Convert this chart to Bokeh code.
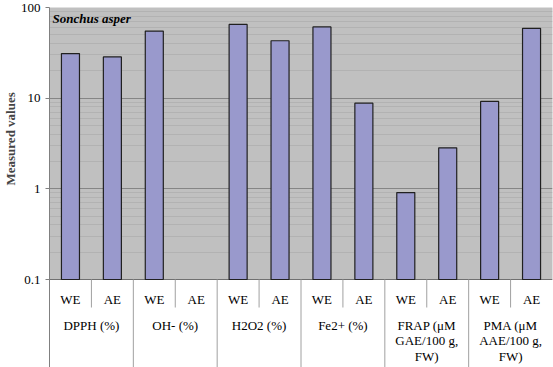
import math
from bokeh.plotting import figure
from bokeh.models import (FactorRange, Range1d, LinearScale, FixedTicker, Title,
                          BoxAnnotation, ColumnDataSource)
from bokeh.core.properties import value
from bokeh.embed import file_html
from bokeh.resources import INLINE

# ---------------- data ----------------
groups = ["DPPH (%)", "OH- (%)", "H2O2 (%)", "Fe2+ (%)",
          "FRAP (μM\nGAE/100 g,\nFW)", "PMA (μM\nAAE/100 g,\nFW)"]
subs = ["WE", "AE"]
we_values = [31, 55, 65, 61, 0.91, 9.2]
ae_values = [28.5, None, 43, 8.8, 2.83, 59]
y_ticks = [0.1, 1, 10, 100]
y_tick_labels = ["0.1", "1", "10", "100"]
species = "Sonchus asper"
y_title = "Measured values"

# ---------------- layout constants ----------------
FRAME_H = 360
TABLE_PX = 88              # height of category table under the plot area
SERIF = "Liberation Serif"

factors = [(g, s) for g in groups for s in subs]
px_per_dec = (FRAME_H - TABLE_PX) / math.log10(y_ticks[-1] / y_ticks[0])
y_start = y_ticks[0] / 10 ** (TABLE_PX / px_per_dec)

p = figure(
    x_range=FactorRange(factors=factors, factor_padding=0, group_padding=0,
                        subgroup_padding=0, range_padding=0),
    y_range=Range1d(y_start, y_ticks[-1]),
    y_axis_type="log",
    width=553, frame_height=FRAME_H,
    min_border_top=7, min_border_bottom=0, min_border_right=1, min_border_left=0,
    output_backend="svg", toolbar_location=None,
)
p.extra_y_ranges = {"px": Range1d(0, FRAME_H)}
p.extra_y_scales = {"px": LinearScale()}
p.outline_line_color = None
p.background_fill_color = "white"
p.border_fill_color = "white"
p.xgrid.visible = False
p.ygrid.visible = False
p.xaxis.visible = False

# y axis
yax = p.yaxis[0]
yax.ticker = FixedTicker(ticks=y_ticks, minor_ticks=[])
yax.major_label_overrides = {t: l for t, l in zip(y_ticks, y_tick_labels)}
yax.major_label_text_font = SERIF
yax.major_label_text_font_size = "13px"
yax.major_label_text_color = "black"
yax.major_label_standoff = 5
yax.axis_line_color = "#808080"
yax.major_tick_line_color = "#808080"
yax.major_tick_out = 4
yax.major_tick_in = 0
yax.minor_tick_line_color = None

# y title (placed along left side, centred on plot area)
title_len = 94
offset = TABLE_PX + (FRAME_H - TABLE_PX) / 2 - title_len / 2 + 5
p.add_layout(Title(text=y_title, align="left", offset=offset, text_font=SERIF,
                   text_font_size="13px", text_font_style="bold",
                   standoff=0), "left")

# plot-area background
p.add_layout(BoxAnnotation(bottom=y_ticks[0], top=y_ticks[-1], fill_color="#c0c0c0",
                           fill_alpha=1, line_color="#8a8a8a", line_width=1,
                           level="underlay"))

# grid lines
minor_vals = [k * t for t in y_ticks[:-1] for k in range(2, 10)]
p.hspan(y=minor_vals, line_color="#b2b2b2", line_width=1)
p.hspan(y=y_ticks[1:-1], line_color="#858585", line_width=1)
p.hspan(y=[y_ticks[0]], line_color="#707070", line_width=1)

# bars
bx, btop = [], []
for g, w, a in zip(groups, we_values, ae_values):
    for s, v in zip(subs, (w, a)):
        if v is not None:
            bx.append((g, s))
            btop.append(v)
src = ColumnDataSource(dict(x=bx, top=btop))
p.vbar(x="x", top="top", bottom=y_ticks[0], width=0.43, source=src,
       fill_color="#9999cc", line_color="#202020", line_width=1.2)

# category table under plot
n = len(factors)
grp_x = [i for i in range(2, n, 2)]
p.segment(x0=grp_x, x1=grp_x, y0=[0] * len(grp_x), y1=[TABLE_PX] * len(grp_x),
          y_range_name="px", line_color="#a0a0a0", line_width=1)
sub_x = [i for i in range(1, n, 2)]
p.segment(x0=sub_x, x1=sub_x, y0=[TABLE_PX - 28] * len(sub_x), y1=[TABLE_PX] * len(sub_x),
          y_range_name="px", line_color="#a0a0a0", line_width=1)

p.text(x=factors, y=[TABLE_PX - 20] * n, text=[s for g, s in factors],
       y_range_name="px", text_font=value(SERIF), text_font_size="13px",
       text_align="center", text_baseline="middle", text_color="black")
p.text(x=groups, y=[TABLE_PX - 38] * len(groups), text=groups,
       y_range_name="px", text_font=value(SERIF), text_font_size="13px",
       text_align="center", text_baseline="top", text_line_height=1.06,
       text_color="black")

# species label
p.text(x=[0], y=[FRAME_H - 11], text=[species], y_range_name="px", x_offset=3,
       text_font=value(SERIF), text_font_size="13px", text_font_style="bold italic",
       text_align="left", text_baseline="middle", text_color="black")

open("out.html", "w").write(file_html(p, INLINE))
